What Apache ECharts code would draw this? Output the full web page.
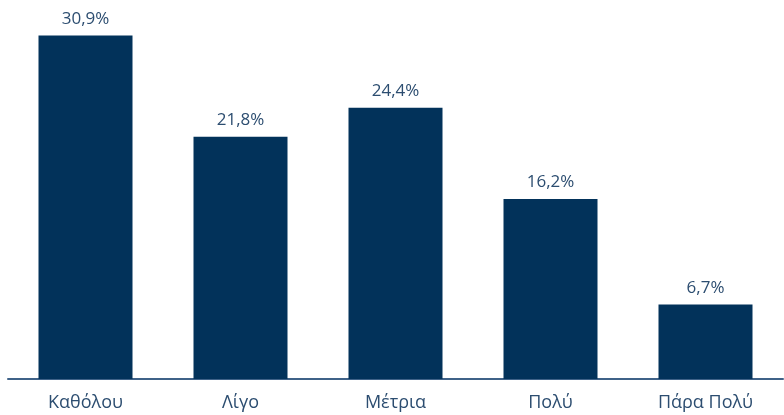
<!DOCTYPE html>
<html>
<head>
<meta charset="utf-8">
<script src="https://cdn.jsdelivr.net/npm/echarts@6/dist/echarts.min.js"></script>
<style>
  html, body { margin: 0; padding: 0; background: #fff; }
  #chart { width: 784px; height: 415px; }
</style>
</head>
<body>
<div id="chart"></div>
<script>
// 数据
const categories = ['Καθόλου', 'Λίγο', 'Μέτρια', 'Πολύ', 'Πάρα Πολύ'];
const values = [30.9, 21.8, 24.4, 16.2, 6.7];

const chart = echarts.init(document.getElementById('chart'));
chart.setOption({
    animation: false,
    grid: { left: 8, right: 1, top: 1, bottom: 36 },
    xAxis: {
        type: 'category',
        data: categories,
        axisTick: { show: false },
        axisLine: { lineStyle: { color: '#3f6288', width: 2 } },
        axisLabel: {
            color: '#2c4d70',
            fontFamily: 'Open Sans',
            fontSize: 18,
            margin: 15
        }
    },
    yAxis: {
        type: 'value',
        min: 0,
        max: 34,
        show: false,
        splitLine: { show: false }
    },
    series: [{
        type: 'bar',
        data: values,
        barWidth: 94,
        itemStyle: { color: '#02325a' },
        label: {
            show: true,
            position: 'top',
            distance: 8,
            color: '#2c4d70',
            fontFamily: 'Open Sans',
            fontSize: 17,
            formatter: p => p.value.toFixed(1).replace('.', ',') + '%'
        }
    }]
});
</script>
</body>
</html>
